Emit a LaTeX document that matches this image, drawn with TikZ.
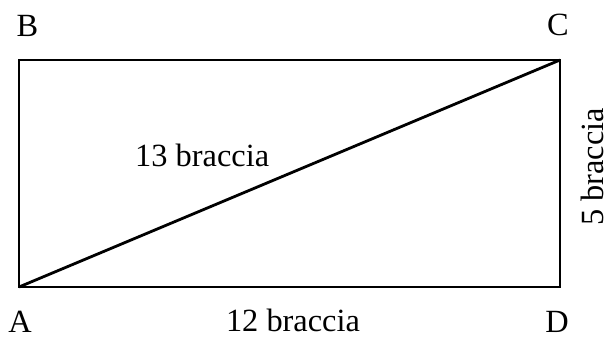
\documentclass[tikz,border=0pt]{standalone}
\usepackage{fontspec}
\setmainfont{Liberation Serif}
\usepackage{tikz}
\usetikzlibrary{calc}

\begin{document}
\begin{tikzpicture}[x=1bp,y=-1bp,
  side/.style={line width=2.8bp,line join=miter},
  lbl/.style={inner sep=0pt,anchor=base,font=\fontsize{32.5}{36}\selectfont}]
\useasboundingbox (0,0) rectangle (604,337);
\coordinate (A) at (19,287);
\coordinate (B) at (19,60);
\coordinate (C) at (560,60);
\coordinate (D) at (560,287);
\draw[side] (A) -- (D) -- (C) -- (B) -- cycle;
\draw[side] (A) -- (C);
\node[lbl] (lA) at (20,332) {A};
\node[lbl] (lB) at (27.5,36) {B};
\node[lbl] (lC) at (558,35) {C};
\node[lbl] (lD) at (557,332) {D};
\node[lbl,anchor=base west] (diag) at (135,166) {13 braccia};
\node[lbl] (base) at (293,331) {12 braccia};
\node[lbl,rotate=90] (height) at (603,167) {5 braccia};
\end{tikzpicture}
\end{document}
